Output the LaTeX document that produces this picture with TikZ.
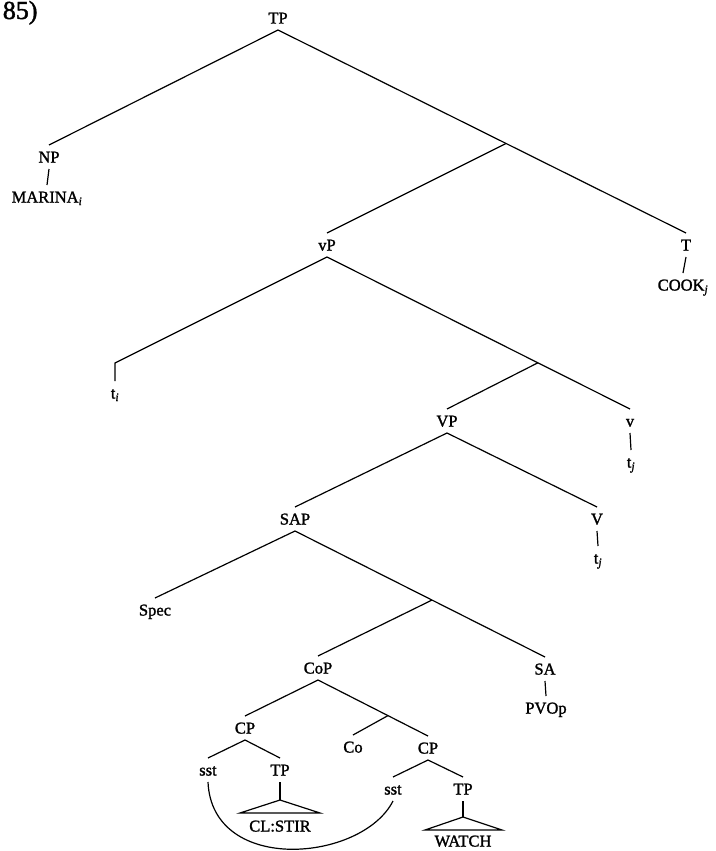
\documentclass[tikz,border=0pt]{standalone}
\usepackage{fontspec}
\setmainfont{Liberation Serif}[FakeBold=1.5]
\newfontfamily\treefont{Liberation Serif}[FakeBold=1.5]
\usetikzlibrary{calc}

\begin{document}
\begin{tikzpicture}[
    x=1pt, y=-1pt,
    every node/.style={font=\treefont\fontsize{16.5}{18}\selectfont, inner sep=1pt, outer sep=4.5pt, text height=12pt, text depth=1pt},
    branch/.style={line width=1.2pt},
    roof/.style={line width=1.2pt, line join=miter}
]
\useasboundingbox (0,0) rectangle (715,851);

\node[font=\fontsize{26}{28}\selectfont, anchor=base east, text height=18pt, text depth=0pt, inner sep=0pt] (ex_num) at (42,19) {85)};

% Labels
\node (tp_top) at (278,18) {TP};
\node (np) at (49,157) {NP};
\node (marina) at (47,197) {MARINA\textsubscript{\textit{i}}};
\node (t_head) at (686,245) {T};
\node (cook) at (683,285) {COOK\textsubscript{\textit{j}}};
\node (vp_small) at (327,245) {vP};
\node (t_i) at (115,393) {t\textsubscript{\textit{i}}};
\node (v_head) at (630,421) {v};
\node (t_j1) at (631,462) {t\textsubscript{\textit{j}}};
\node (vp_big) at (447,421) {VP};
\node (sap) at (295,519) {SAP};
\node (v_big) at (597,519) {V};
\node (t_j2) at (598,558) {t\textsubscript{\textit{j}}};
\node (spec) at (155,610) {Spec};
\node (sa) at (545,669) {SA};
\node (pvop) at (546,708) {PVOp};
\node (cop) at (318,668) {CoP};
\node (cp_left) at (245,728) {CP};
\node (co) at (353,747) {Co};
\node (cp_right) at (428,748) {CP};
\node (sst_left) at (208,770) {sst};
\node (tp_left) at (280,770) {TP};
\node (clstir) at (280,826) {CL:STIR};
\node (sst_right) at (393,789) {sst};
\node (tp_right) at (463,789) {TP};
\node (watch) at (463,841) {WATCH};

% Junctions
\coordinate (j_tp) at ($(tp_top.south)!0.559!(t_head.north)$);
\coordinate (j_vp) at ($(vp_small.south)!0.696!(v_head.north)$);
\coordinate (j_sap) at ($(sap.south)!0.548!(sa.north)$);
\coordinate (j_cop) at ($(cop.south)!0.636!(cp_right.north)$);
\coordinate (ti_bend) at (115,363);

% Connections
\draw[branch] (tp_top.south) -- (np.north);
\draw[branch] (tp_top.south) -- (t_head.north);
\draw[branch] (np.south) -- (marina.north);
\draw[branch] (t_head.south) -- (cook.north);
\draw[branch] (j_tp) -- (vp_small.north);
\draw[branch] (vp_small.south) -- (ti_bend) -- (t_i.north);
\draw[branch] (vp_small.south) -- (v_head.north);
\draw[branch] (v_head.south) -- (t_j1.north);
\draw[branch] (j_vp) -- (vp_big.north);
\draw[branch] (vp_big.south) -- (sap.north);
\draw[branch] (vp_big.south) -- (v_big.north);
\draw[branch] (v_big.south) -- (t_j2.north);
\draw[branch] (sap.south) -- (spec.north);
\draw[branch] (sap.south) -- (sa.north);
\draw[branch] (sa.south) -- (pvop.north);
\draw[branch] (j_sap) -- (cop.north);
\draw[branch] (cop.south) -- (cp_left.north);
\draw[branch] (cop.south) -- (cp_right.north);
\draw[branch] (j_cop) -- (co.north);
\draw[branch] (cp_left.south) -- (sst_left.north);
\draw[branch] (cp_left.south) -- (tp_left.north);
\draw[branch] (cp_right.south) -- (sst_right.north);
\draw[branch] (cp_right.south) -- (tp_right.north);

% Roofs
\coordinate (roof_l_top) at (280,800);
\draw[branch] (tp_left.south) -- (roof_l_top);
\draw[roof] (roof_l_top) -- (240,813) -- (320,813) -- cycle;
\coordinate (roof_r_top) at (463,817);
\draw[branch] (tp_right.south) -- (roof_r_top);
\draw[roof] (roof_r_top) -- (425,830) -- (502,830) -- cycle;

% sst link
\draw[branch] (sst_left.south) .. controls (212,875) and (362,862) .. (sst_right.south);

\end{tikzpicture}
\end{document}
